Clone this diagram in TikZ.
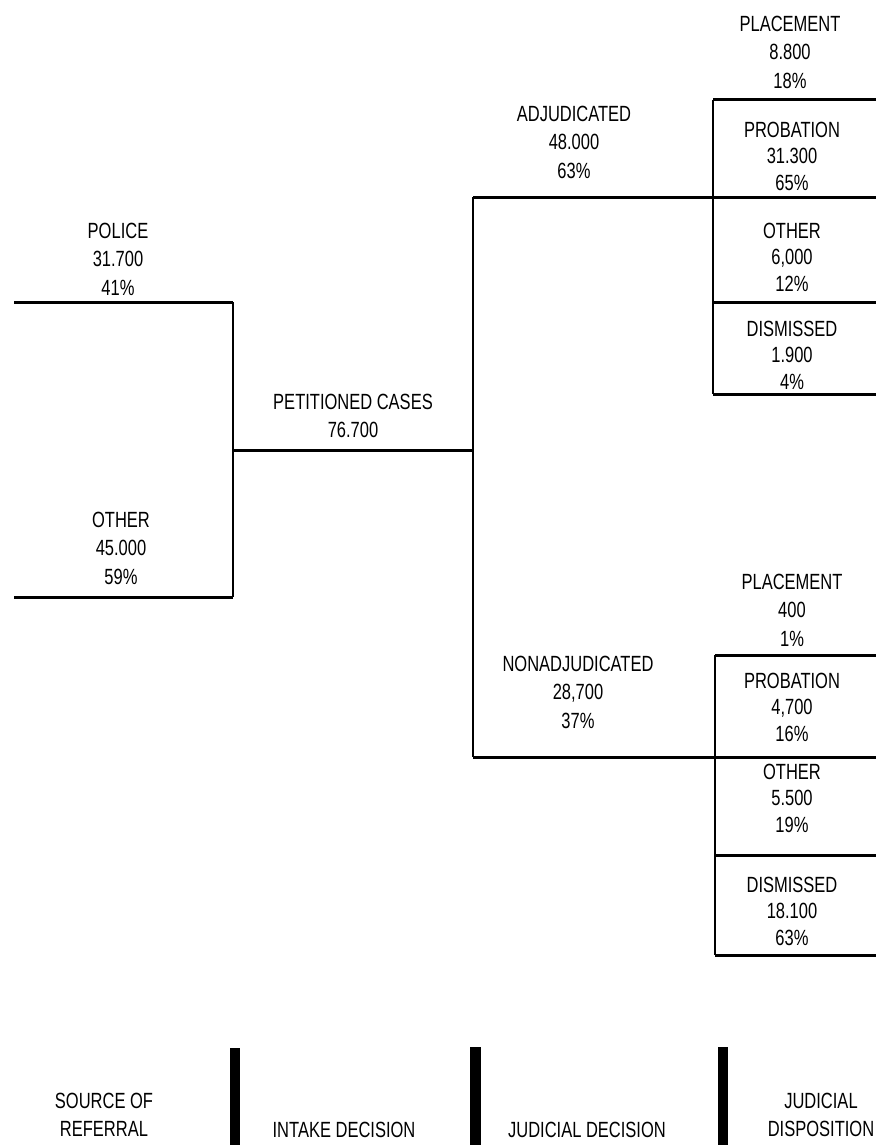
\documentclass[tikz,border=0pt]{standalone}
\usepackage{fontspec}
\setmainfont[FakeStretch=0.75]{Liberation Sans}
\begin{document}
\begin{tikzpicture}[x=1pt,y=-1pt,
  lbl/.style={align=center,inner sep=0pt,font=\fontsize{22}{28.5}\selectfont},
  blbl/.style={align=center,inner sep=0pt,font=\fontsize{22}{26.5}\selectfont},
  hline/.style={line width=3pt},
  vline/.style={line width=2.2pt},
  bar/.style={fill=black}]
\useasboundingbox (0,0) rectangle (876,1145);
\fill[white] (0,0) rectangle (876,1145);

% coordinates
\coordinate (pL) at (14,302);
\coordinate (pR) at (233,302);
\coordinate (oL) at (14,597);
\coordinate (oR) at (233,597);
\coordinate (mid) at (233,450);
\coordinate (jn) at (473,450);
\coordinate (aT) at (473,197);
\coordinate (nB) at (473,757);
\coordinate (aE) at (876,197);
\coordinate (nE) at (876,757);
\coordinate (b1T) at (713,100);
\coordinate (b1Te) at (876,100);
\coordinate (b1M) at (713,302);
\coordinate (b1Me) at (876,302);
\coordinate (b1B) at (713,394);
\coordinate (b1Be) at (876,394);
\coordinate (b2T) at (715,655);
\coordinate (b2Te) at (876,655);
\coordinate (b2M) at (715,855);
\coordinate (b2Me) at (876,855);
\coordinate (b2B) at (715,955);
\coordinate (b2Be) at (876,955);

% lines
\draw[hline] (pL) -- (pR);
\draw[hline] (oL) -- (oR);
\draw[vline] (pR) -- (oR);
\draw[hline] (mid) -- (jn);
\draw[vline] (aT) -- (nB);
\draw[hline] (aT) -- (aE);
\draw[hline] (nB) -- (nE);
\draw[hline] (b1T) -- (b1Te);
\draw[hline] (b1M) -- (b1Me);
\draw[hline] (b1B) -- (b1Be);
\draw[vline] (b1T) -- (b1B);
\draw[hline] (b2T) -- (b2Te);
\draw[hline] (b2M) -- (b2Me);
\draw[hline] (b2B) -- (b2Be);
\draw[vline] (b2T) -- (b2B);

% left texts
\node[lbl] (police) at (118,259) {POLICE\\31.700\\41\%};
\node[lbl] (other) at (121,548) {OTHER\\45.000\\59\%};
\node[lbl] (pet) at (353,416) {PETITIONED CASES\\76.700};
\node[lbl] (adj) at (574,142) {ADJUDICATED\\48.000\\63\%};
\node[lbl] (nonadj) at (578,692) {NONADJUDICATED\\28,700\\37\%};

% right top
\node[lbl] (pl1) at (790,52) {PLACEMENT\\8.800\\18\%};
\node[blbl] (pr1) at (792,156) {PROBATION\\31.300\\65\%};
\node[blbl] (ot1) at (792,257) {OTHER\\6,000\\12\%};
\node[blbl] (di1) at (792,355) {DISMISSED\\1.900\\4\%};

% right bottom
\node[lbl] (pl2) at (792,610) {PLACEMENT\\400\\1\%};
\node[blbl] (pr2) at (792,707) {PROBATION\\4,700\\16\%};
\node[blbl] (ot2) at (792,798) {OTHER\\5.500\\19\%};
\node[blbl] (di2) at (792,911) {DISMISSED\\18.100\\63\%};

% bottom bars and labels
\fill[bar] (230,1048) rectangle (240,1145);
\fill[bar] (470,1047) rectangle (481,1145);
\fill[bar] (718,1047) rectangle (728,1145);
\node[lbl] (src) at (104,1115) {SOURCE OF\\REFERRAL};
\node[lbl] (intake) at (344,1130) {INTAKE DECISION};
\node[lbl] (jdec) at (587,1130) {JUDICIAL DECISION};
\node[lbl] (jdis) at (821,1115) {JUDICIAL\\DISPOSITION};
\end{tikzpicture}
\end{document}
